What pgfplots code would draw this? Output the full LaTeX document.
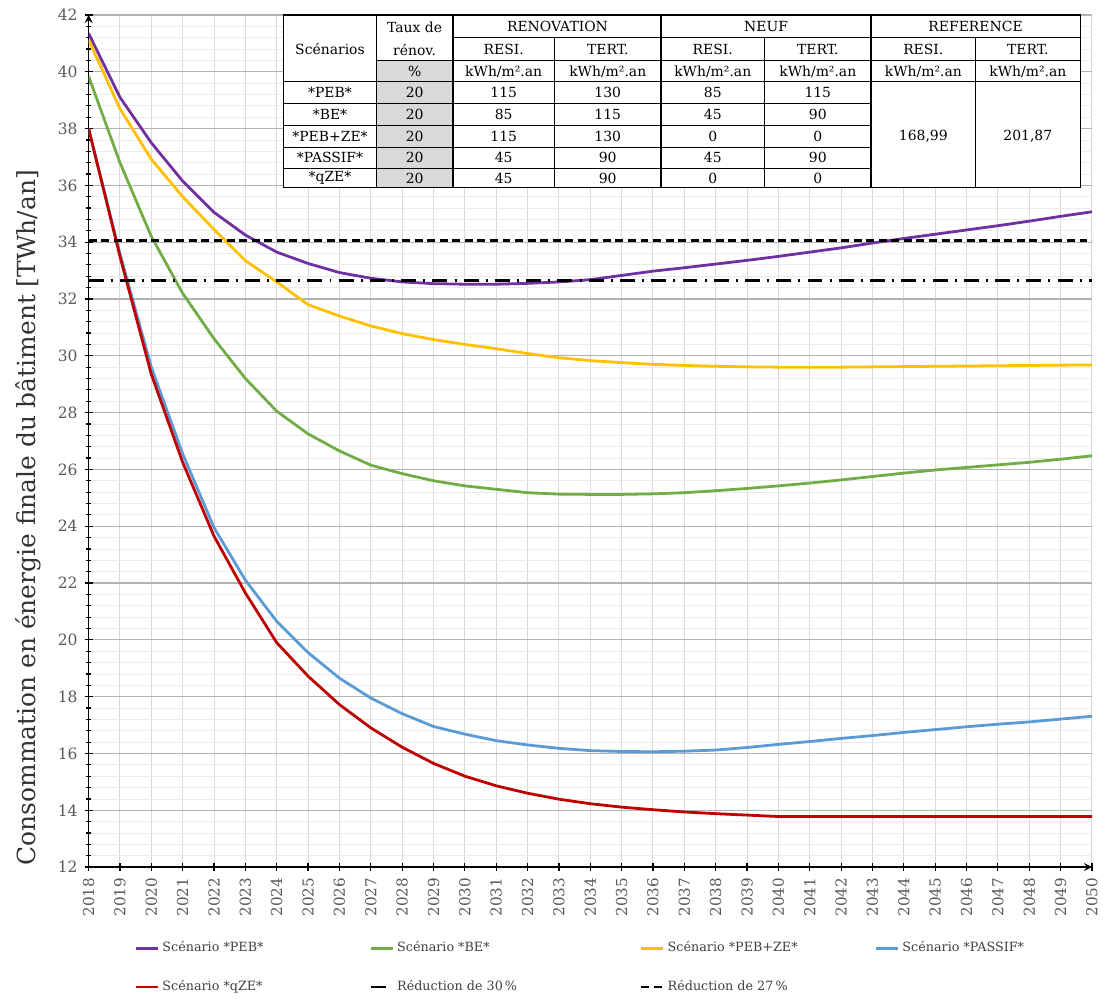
\documentclass[border=0pt]{standalone}
\usepackage{fontspec}
\setmainfont{DejaVu Serif}
\usepackage{pgfplots}
\usepackage{pgfplotstable}
\pgfplotsset{compat=1.18}

\definecolor{cpeb}{HTML}{7030A0}
\definecolor{cbe}{HTML}{70AD47}
\definecolor{cpebze}{HTML}{FFC000}
\definecolor{cpassif}{HTML}{5B9BD5}
\definecolor{cqze}{HTML}{C00000}
\definecolor{ticktxt}{HTML}{595959}

% TWh/an par scenario
\pgfplotstableread{
year peb   be    pebze passif qze
2018 41.35 39.84 41.12 38.00  38.00
2019 39.10 36.80 38.70 33.60  33.50
2020 37.50 34.20 36.92 29.60  29.35
2021 36.15 32.20 35.60 26.55  26.25
2022 35.05 30.60 34.45 23.95  23.65
2023 34.25 29.20 33.35 22.10  21.65
2024 33.65 28.05 32.60 20.65  19.90
2025 33.25 27.25 31.80 19.55  18.72
2026 32.93 26.65 31.40 18.65  17.72
2027 32.73 26.15 31.05 17.95  16.90
2028 32.60 25.85 30.78 17.40  16.22
2029 32.54 25.60 30.57 16.95  15.65
2030 32.52 25.42 30.40 16.68  15.20
2031 32.52 25.30 30.25 16.45  14.86
2032 32.55 25.18 30.08 16.30  14.60
2033 32.60 25.13 29.93 16.18  14.39
2034 32.68 25.12 29.83 16.10  14.23
2035 32.83 25.12 29.76 16.07  14.11
2036 32.98 25.14 29.70 16.06  14.02
2037 33.10 25.18 29.66 16.08  13.94
2038 33.23 25.25 29.63 16.12  13.88
2039 33.36 25.33 29.61 16.21  13.83
2040 33.50 25.42 29.60 16.32  13.78
2041 33.65 25.52 29.60 16.42  13.78
2042 33.80 25.63 29.60 16.53  13.78
2043 33.97 25.75 29.61 16.63  13.78
2044 34.13 25.87 29.62 16.74  13.78
2045 34.28 25.98 29.63 16.84  13.78
2046 34.43 26.07 29.64 16.94  13.78
2047 34.58 26.16 29.65 17.03  13.78
2048 34.74 26.25 29.66 17.11  13.78
2049 34.91 26.36 29.67 17.21  13.78
2050 35.07 26.48 29.68 17.31  13.78
}\conso

\begin{document}
\begin{tikzpicture}
\path[use as bounding box] (-44.5pt,-66pt) rectangle (509.5pt,435.5pt);
\begin{axis}[
  scale only axis, width=504pt, height=428pt,
  xmin=2018, xmax=2050, ymin=12, ymax=42,
  axis lines=left,
  axis line style={black, line width=0.8pt},
  xtick={2018,...,2050},
  ytick={12,14,...,42},
  minor y tick num=4,
  grid=both,
  major x grid style={color=black!15, line width=0.5pt},
  major y grid style={color=black!30, line width=0.6pt},
  minor y grid style={color=black!8, line width=0.4pt},
  tick align=center,
  major tick length=4pt, minor tick length=2.5pt,
  tick style={black, line width=0.6pt},
  /pgf/number format/assume math mode=true,
  /pgf/number format/1000 sep={},
  yticklabel style={font=\fontsize{7.8}{9}\selectfont, text=ticktxt},
  xticklabel style={font=\fontsize{7.6}{9}\selectfont, text=ticktxt, rotate=90, anchor=east},
  ylabel={Consommation en énergie finale du bâtiment [TWh/an]},
  ylabel style={at={(axis description cs:-0.0605,0.41)}, anchor=center,
    font=\fontsize{12.5}{14}\selectfont, text=black!80},
  legend columns=4,
  legend cell align=left,
  legend image code/.code={\draw[#1] (0pt,0pt) -- (11pt,0pt);},
  legend style={at={(axis description cs:0.0456,-0.0859)}, anchor=north west,
    draw=none, fill=none, inner sep=0pt, column sep=1pt, row sep=12pt,
    font=\fontsize{6.4}{7.5}\selectfont, text=black!75,
    nodes={inner sep=0.5pt, text height=5pt, text depth=1.5pt}},
]
\addplot[cpeb, line width=1.4pt] table[x=year, y=peb] {\conso};
\addlegendentry{\makebox[102.5pt][l]{Scénario *PEB*}}
\addplot[cbe, line width=1.4pt] table[x=year, y=be] {\conso};
\addlegendentry{\makebox[120.5pt][l]{Scénario *BE*}}
\addplot[cpebze, line width=1.4pt] table[x=year, y=pebze] {\conso};
\addlegendentry{\makebox[102.5pt][l]{Scénario *PEB+ZE*}}
\addplot[cpassif, line width=1.4pt] table[x=year, y=passif] {\conso};
\addlegendentry{Scénario *PASSIF*}
\addplot[cqze, line width=1.4pt] table[x=year, y=qze] {\conso};
\addlegendentry{\makebox[102.5pt][l]{Scénario *qZE*}}
\addplot[black, line width=1.1pt, dash pattern=on 7.5pt off 3.6pt on 1pt off 3.6pt]
  coordinates {(2018,32.65) (2050,32.65)};
\addlegendentry{\makebox[120.5pt][l]{Réduction de 30\,\%}}
\addplot[black, line width=1.3pt, dash pattern=on 4pt off 2.3pt]
  coordinates {(2018,34.05) (2050,34.05)};
\addlegendentry{Réduction de 27\,\%}
\end{axis}

% tableau des scenarios (coordonnees en pixels de l'image)
\begin{scope}[x=0.5pt, y=-0.5pt, shift={(-44.5pt,435.5pt)},
  every node/.style={font=\fontsize{7}{8}\selectfont, inner sep=0pt}]
  \fill[white] (285,15) rectangle (1085,188);
  \fill[black!15] (378,61) rectangle (455,188);
  \begin{scope}[line width=0.6pt]
    \draw (285,15) rectangle (1085,188);
    \draw (455,38) -- (1085,38);
    \draw (378,61) -- (1085,61);
    \draw (285,82) -- (1085,82);
    \foreach \yy in {104,126,148,169} \draw (285,\yy) -- (875,\yy);
    \foreach \xx in {378,455,664,875} \draw (\xx,15) -- (\xx,188);
    \foreach \xx in {557,768,980} \draw (\xx,38) -- (\xx,188);
  \end{scope}
  \node at (416.5,27) {Taux de};
  \node at (560,27) {RENOVATION};
  \node at (769.5,27) {NEUF};
  \node at (980,27) {REFERENCE};
  \node at (331.5,49) {Scénarios};
  \node at (416.5,50) {rénov.};
  \foreach \xx/\tt in {506/RESI., 610.5/TERT., 716/RESI., 821.5/TERT., 927.5/RESI., 1032.5/TERT.}
    \node at (\xx,50) {\tt};
  \node at (416.5,72) {\%};
  \foreach \xx in {506,610.5,716,821.5,927.5,1032.5}
    \node at (\xx,72) {kWh/m².an};
  \foreach \yy/\nom/\a/\b/\c/\d in {93/*PEB*/115/130/85/115, 115/*BE*/85/115/45/90,
      137/*PEB+ZE*/115/130/0/0, 158.5/*PASSIF*/45/90/45/90, 179/*qZE*/45/90/0/0} {
    \node at (331.5,\yy) {\nom};
    \node at (416.5,\yy) {20};
    \node at (506,\yy) {\a};
    \node at (610.5,\yy) {\b};
    \node at (716,\yy) {\c};
    \node at (821.5,\yy) {\d};
  }
  \node at (927.5,137) {168,99};
  \node at (1032.5,137) {201,87};
\end{scope}
\end{tikzpicture}
\end{document}
